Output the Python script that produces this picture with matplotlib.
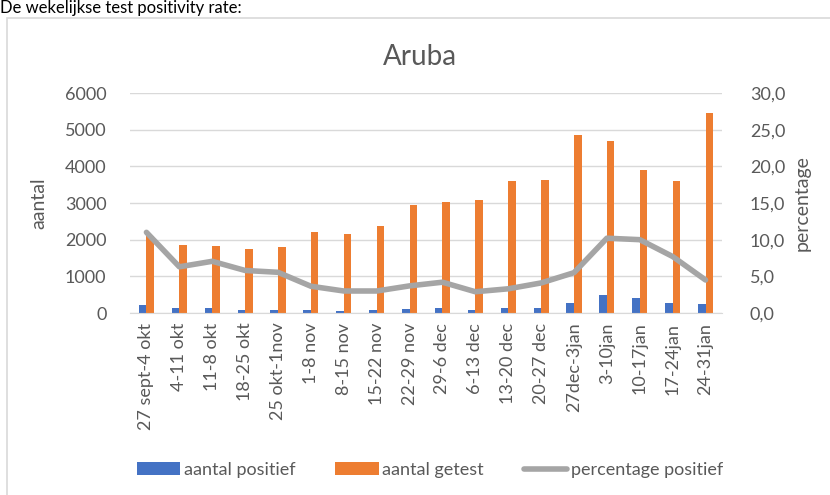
import matplotlib.pyplot as plt
import matplotlib.patches as patches
import numpy as np

BLUE = "#4472C4"
ORANGE = "#ED7D31"
GRAY = "#A5A5A5"
TEXT = "#595959"
GRID = "#D9D9D9"

weeks = [
    "27 sept-4 okt", "4-11 okt", "11-8 okt", "18-25 okt", "25 okt-1nov",
    "1-8 nov", "8-15 nov", "15-22 nov", "22-29 nov", "29-6 dec",
    "6-13 dec", "13-20 dec", "20-27 dec", "27dec-3jan", "3-10jan",
    "10-17jan", "17-24jan", "24-31jan",
]
positief = [227, 127, 127, 90, 90, 90, 55, 90, 100, 127,
            90, 127, 136, 264, 490, 410, 282, 236]
getest = [2100, 1860, 1840, 1750, 1800, 2200, 2160, 2360, 2950, 3040,
          3090, 3610, 3636, 4845, 4680, 3910, 3610, 5455]
percentage = [11.0, 6.3, 7.05, 5.8, 5.55, 3.65, 3.0, 3.0, 3.7, 4.2,
              2.9, 3.3, 4.1, 5.5, 10.2, 10.0, 7.7, 4.5]

left_ticks = [0, 1000, 2000, 3000, 4000, 5000, 6000]
right_ticks = [0, 5, 10, 15, 20, 25, 30]

plt.rcParams['font.family'] = ['Lato', 'DejaVu Sans']

fig = plt.figure(figsize=(8.3, 4.95), dpi=100)
fig.patch.set_facecolor("white")

# chart frame
fig.add_artist(patches.Rectangle((7 / 830, -0.01), 1.0, 1 - 18 / 495 + 0.01,
                                 transform=fig.transFigure, fill=False,
                                 edgecolor=GRID, linewidth=1.2))
fig.text(0.0, 0.999, "De wekelijkse test positivity rate:", fontsize=12,
         color="black", va="top", ha="left")

ax = fig.add_axes([130 / 830, 1 - 313 / 495, 592 / 830, 220 / 495])
ax2 = ax.twinx()

x = np.arange(len(weeks))
w = 0.23
b1 = ax.bar(x - w / 2, positief, width=w, color=BLUE, label="aantal positief", zorder=2)
b2 = ax.bar(x + w / 2, getest, width=w, color=ORANGE, label="aantal getest", zorder=2)
ln, = ax2.plot(x, percentage, color=GRAY, linewidth=4, solid_joinstyle="round",
               solid_capstyle="round", label="percentage positief")

ax.set_xlim(-0.5, len(weeks) - 0.5)
ax.set_ylim(0, 6000)
ax2.set_ylim(0, 30)
ax.set_yticks(left_ticks)
ax.set_yticklabels([str(t) for t in left_ticks])
ax2.set_yticks(right_ticks)
ax2.set_yticklabels([f"{t:.1f}".replace(".", ",") for t in right_ticks])
ax.set_xticks(x)
ax.set_xticklabels(weeks, rotation=90)

ax.grid(axis="y", color=GRID, linewidth=1, zorder=0)
ax.set_axisbelow(True)
for a in (ax, ax2):
    for s in a.spines.values():
        s.set_visible(False)
    a.tick_params(length=0, labelsize=13, labelcolor=TEXT)
ax.spines["bottom"].set_visible(True)
ax.spines["bottom"].set_color(GRID)
ax.tick_params(axis="y", pad=17)
ax.tick_params(axis="x", pad=7)
ax2.tick_params(axis="y", pad=20)

ax.set_ylabel("aantal", fontsize=14, color=TEXT)
ax.yaxis.set_label_coords(-0.14, 0.5)
ax2.set_ylabel("percentage", fontsize=14, color=TEXT, labelpad=6)
ax.set_title("Aruba", fontsize=20, color=TEXT, pad=20, x=0.49)

fig.legend(handles=[b1, b2, ln], loc="center", bbox_to_anchor=(430 / 830, 1 - 470 / 495),
           ncol=3, frameon=False, fontsize=13, labelcolor=TEXT,
           handlelength=2.4, handleheight=0.7, handletextpad=0.2, columnspacing=2.2)

fig.savefig("out.png", dpi=100)
